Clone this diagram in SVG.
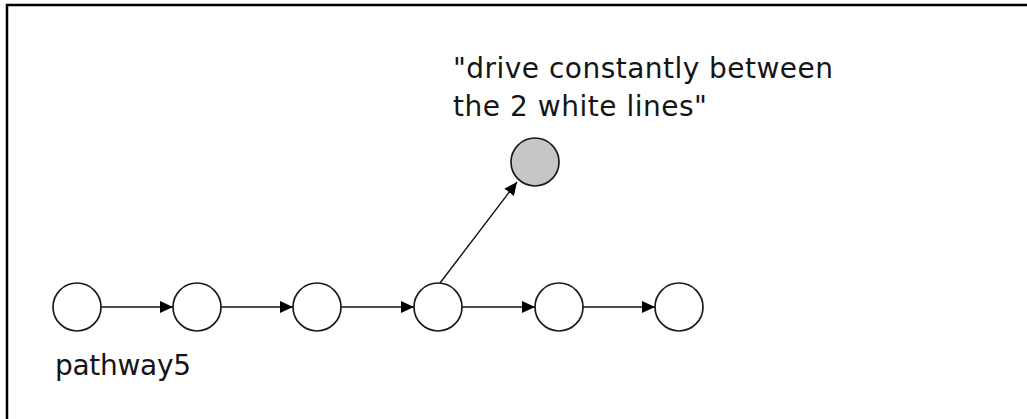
<svg xmlns="http://www.w3.org/2000/svg" width="1027" height="419" viewBox="0 0 1027 419">
<defs>
<style>
.node{fill:#fff;stroke:#1a1a1a;stroke-width:1.7}
.node.grey{fill:#c6c6c6}
.edge{stroke:#111;stroke-width:1.4;fill:none;marker-end:url(#ah)}
.lbl{font-family:"DejaVu Sans","Verdana",sans-serif;font-size:28px;fill:#151515}
</style>
<marker id="ah" viewBox="0 0 13 12" refX="13" refY="6" markerWidth="13" markerHeight="12" markerUnits="userSpaceOnUse" orient="auto">
<path d="M0,0 L13,6 L0,12 Z" fill="#000"/>
</marker>
</defs>
<rect x="0" y="0" width="1027" height="419" fill="#fff"/>
<path d="M7,419 V5 H1027" fill="none" stroke="#000" stroke-width="2.5"/>
<g id="connectors">
<line class="edge" x1="101" y1="307" x2="173" y2="307"/>
<line class="edge" x1="221" y1="307" x2="293" y2="307"/>
<line class="edge" x1="341" y1="307" x2="414" y2="307"/>
<line class="edge" x1="462" y1="307" x2="535" y2="307"/>
<line class="edge" x1="583" y1="307" x2="655" y2="307"/>
<line class="edge" x1="440" y1="283" x2="517" y2="182"/>
</g>
<g id="n1"><circle class="node" cx="77" cy="307" r="24"/></g>
<g id="n2"><circle class="node" cx="197" cy="307" r="24"/></g>
<g id="n3"><circle class="node" cx="317" cy="307" r="24"/></g>
<g id="n4"><circle class="node" cx="438" cy="307" r="24"/></g>
<g id="n5"><circle class="node" cx="559" cy="307" r="24"/></g>
<g id="n6"><circle class="node" cx="679" cy="307" r="24"/></g>
<g id="n7"><circle class="node grey" cx="535" cy="162" r="24"/></g>
<g id="labels">
<text class="lbl" x="55" y="375" textLength="136" lengthAdjust="spacing">pathway5</text>
<text class="lbl" x="453" y="78" textLength="380" lengthAdjust="spacing">"drive constantly between</text>
<text class="lbl" x="453" y="116" textLength="254" lengthAdjust="spacing">the 2 white lines"</text>
</g>
</svg>
